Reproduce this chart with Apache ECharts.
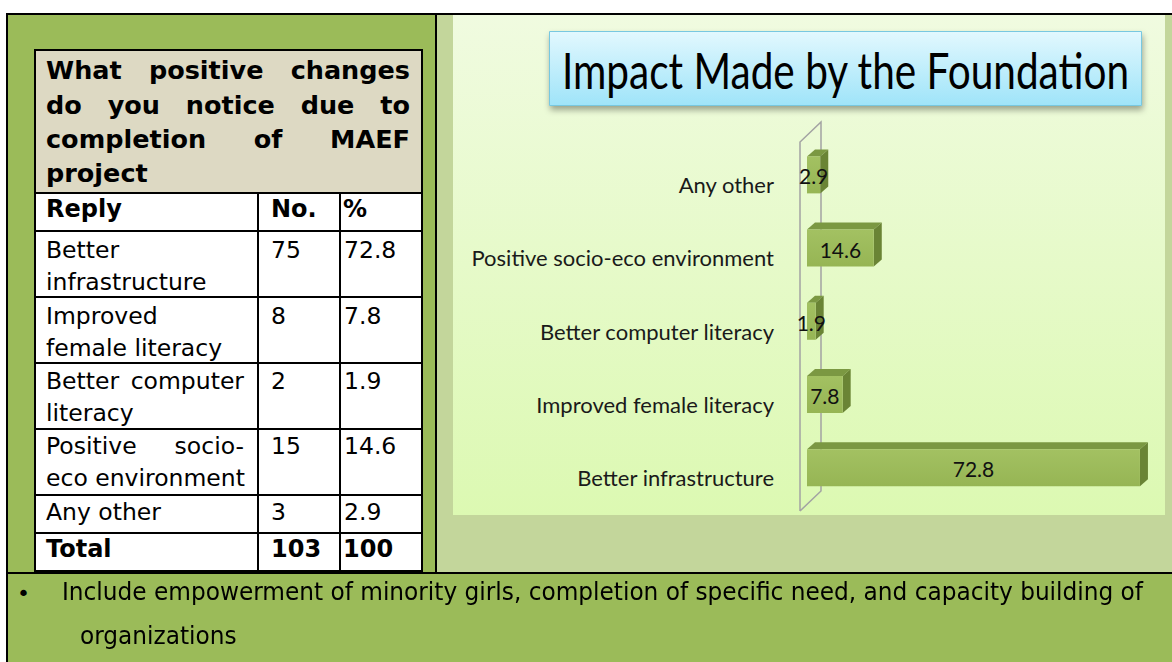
<!DOCTYPE html>
<html><head><meta charset="utf-8">
<script src="https://cdn.jsdelivr.net/npm/echarts@6/dist/echarts.min.js"></script>
<style>
html,body{margin:0;padding:0;background:#fff;}
#page{position:relative;width:1172px;height:662px;overflow:hidden;background:#fff;}
.abs{position:absolute;}
.t{position:absolute;white-space:nowrap;font-family:'DejaVu Sans',sans-serif;color:#000;}
</style></head><body>
<div id="page">
 <div class="abs" style="left:6px;top:13px;width:1166px;height:2px;background:#000"></div>
 <div class="abs" style="left:6px;top:13px;width:2px;height:649px;background:#000"></div>
 <div class="abs" style="left:8px;top:15px;width:427px;height:557px;background:#9bbb59"></div>
 <div class="abs" style="left:435px;top:15px;width:2px;height:557px;background:#000"></div>
 <div class="abs" style="left:437px;top:15px;width:735px;height:557px;background:#c3d69b"></div>
 <div class="abs" style="left:6px;top:572px;width:1166px;height:2px;background:#000"></div>
 <div class="abs" style="left:8px;top:574px;width:1164px;height:88px;background:#9bbb59"></div>
 <div id="chart" class="abs" style="left:453px;top:15px;width:712px;height:500px"></div>
</div>
<script>
// ---- data ----
const tableQuestion = ["What positive changes", "do you notice due to", "completion of MAEF", "project"];
const tableHeader = ["Reply", "No.", "%"];
const replyLines = [["Better", "infrastructure"], ["Improved", "female literacy"], ["Better computer", "literacy"], ["Positive socio-", "eco environment"], ["Any other"]];
const categories = ["Better infrastructure", "Improved female literacy", "Better computer literacy", "Positive socio-eco environment", "Any other"];
const counts = [75, 8, 2, 15, 3];
const percents = [72.8, 7.8, 1.9, 14.6, 2.9];
const totalLabel = "Total";
const totalCount = 103;
const totalPercent = 100;
const chartTitle = "Impact Made by the Foundation";
const noteLines = ["Include empowerment of minority girls, completion of specific need, and capacity building of", "organizations"];

// ---- helpers ----
const page = document.getElementById('page');
function box(l, t, w, h, bg) {
  const d = document.createElement('div');
  d.className = 'abs';
  d.style.cssText = `left:${l}px;top:${t}px;width:${w}px;height:${h}px;background:${bg}`;
  page.appendChild(d);
  return d;
}
function measure(text, font) {
  const c = document.createElement('canvas').getContext('2d');
  c.font = font; return c.measureText(text).width;
}
function txt(x, baseline, text, size, bold, justifyWidth) {
  const d = document.createElement('div');
  d.className = 't';
  d.textContent = text;
  d.style.fontSize = size + 'px';
  d.style.fontWeight = bold ? 'bold' : 'normal';
  d.style.lineHeight = (size * 1.164) + 'px';
  d.style.left = x + 'px';
  d.style.top = (baseline - size * 0.928) + 'px';
  if (justifyWidth) {
    d.style.width = justifyWidth + 'px';
    d.style.whiteSpace = 'normal';
    d.style.textAlign = 'justify';
    d.style.textAlignLast = 'justify';
  }
  page.appendChild(d);
  return d;
}

// ---- table ----
box(34, 49, 389, 523, '#000');
box(36, 51, 385, 141, '#ddd9c3');
box(36, 194, 385, 376, '#fff');
[230, 296, 362, 428, 494, 532].forEach(y => box(36, y, 385, 2, '#000'));
[257, 339].forEach(x => box(x, 194, 2, 376, '#000'));

tableQuestion.forEach((line, i) => {
  txt(46, 80 + i * 34.3, line, 25.5, true, i < tableQuestion.length - 1 ? 364 : 0);
});
txt(46, 218, tableHeader[0], 24, true);
txt(271, 218, tableHeader[1], 24, true);
txt(343, 218, tableHeader[2], 24, true);

const rowTops = [230, 296, 362, 428, 494];
const justified = [false, false, true, true, false];
replyLines.forEach((lines, r) => {
  const b0 = rowTops[r] + 29 - (r >= 2 ? 1 : 0) - (r >= 3 ? 1 : 0);
  lines.forEach((ln, k) => txt(46, b0 + k * 31.5, ln, 23.5, false, (k === 0 && justified[r]) ? 198 : 0));
  txt(271, b0, String(counts[r]), 23.5, false);
  txt(344, b0, percents[r].toFixed(1), 23.5, false);
});
txt(46, 558, totalLabel, 24, true);
txt(271, 558, String(totalCount), 24, true);
txt(343, 558, String(totalPercent), 24, true);

// ---- note row (condensed to the reference width) ----
const noteFont = 24;
const noteScale = 1081 / measure(noteLines[0], noteFont + "px 'DejaVu Sans'");
txt(17, 601, '\u2022', 22, false);
[[62, 601], [80, 645]].forEach(([x, b], i) => {
  const d = txt(x, b, noteLines[i], noteFont, false);
  d.style.transformOrigin = '0 0';
  d.style.transform = `scaleX(${noteScale})`;
});

// ---- chart ----
const chart = echarts.init(document.getElementById('chart'), null, { renderer: 'svg' });
const titleFont = "51px Lato";
const titleScale = 568 / measure(chartTitle, titleFont);

function wallRender(params, api) {
  const cs = params.coordSys;
  const x0 = api.coord([0, 0])[0] - 7;
  const t = cs.y - 6, b = cs.y + cs.height - 3;
  const dx = 21, dy = -20;
  return {
    type: 'polyline',
    shape: { points: [[x0, b], [x0, t], [x0 + dx, t + dy], [x0 + dx, b + dy], [x0, b]] },
    style: { stroke: '#a3a3a3', lineWidth: 1.5, fill: null }
  };
}
function barRender(params, api) {
  const v = api.value(0), c = api.value(1);
  const p0 = api.coord([0, c]);
  const p1 = api.coord([v, c]);
  const band = api.size([0, 1])[1];
  const h = band * 0.505;
  const yTop = p0[1] - band * 0.385;
  const x0 = p0[0], x1 = p1[0];
  const dx = 8, dy = -7;
  return {
    type: 'group',
    children: [
      { type: 'polygon', shape: { points: [[x0, yTop], [x0 + dx, yTop + dy], [x1 + dx, yTop + dy], [x1, yTop]] },
        style: { fill: '#7b9842' } },
      { type: 'polygon', shape: { points: [[x1, yTop], [x1 + dx, yTop + dy], [x1 + dx, yTop + h + dy], [x1, yTop + h]] },
        style: { fill: '#6a8435' } },
      { type: 'rect', shape: { x: x0, y: yTop, width: x1 - x0, height: h },
        style: { fill: { type: 'linear', x: 0, y: 0, x2: 0, y2: 1, colorStops: [{ offset: 0, color: '#a3c162' }, { offset: 1, color: '#96b554' }] } } },
      { type: 'text', x: (x0 + x1) / 2, y: yTop + h / 2 + 1,
        style: { text: v.toFixed(1), x: 0, y: 0, font: '21px Lato', fill: '#111', textFill: '#111',
                 align: 'center', textAlign: 'center', verticalAlign: 'middle', textVerticalAlign: 'middle' } }
    ]
  };
}

chart.setOption({
  animation: false,
  backgroundColor: { type: 'linear', x: 0, y: 0, x2: 0, y2: 1,
    colorStops: [{ offset: 0, color: '#f0fbe0' }, { offset: 1, color: '#dcf9b2' }] },
  grid: { left: 354, top: 133, width: 343, height: 366, containLabel: false },
  xAxis: { type: 'value', min: 0, max: 75, show: false },
  yAxis: {
    type: 'category', data: categories,
    axisLine: { show: false }, axisTick: { show: false }, splitLine: { show: false },
    axisLabel: { margin: 33, fontFamily: 'Lato', fontSize: 22, color: '#1a1a1a' }
  },
  graphic: [{
    type: 'group', left: 96, top: 16,
    children: [
      { type: 'rect', shape: { x: 0, y: 0, width: 592, height: 74 },
        style: { fill: { type: 'linear', x: 0, y: 0, x2: 0, y2: 1,
                 colorStops: [{ offset: 0, color: '#e2f8fe' }, { offset: 1, color: '#9fe4f9' }] },
                 stroke: '#78c8e0', lineWidth: 1,
                 shadowBlur: 6, shadowOffsetX: 1, shadowOffsetY: 4, shadowColor: 'rgba(0,0,0,0.35)' } },
      { type: 'text', x: 296, y: 38, scaleX: titleScale,
        style: { text: chartTitle, x: 0, y: 0, font: titleFont, fill: '#000', textFill: '#000',
                 align: 'center', textAlign: 'center', verticalAlign: 'middle', textVerticalAlign: 'middle' } }
    ]
  }],
  series: [
    { type: 'custom', renderItem: wallRender, data: [[0, 0]], encode: { x: 0, y: 1 }, silent: true, z: 1 },
    { type: 'custom', renderItem: barRender, data: percents.map((v, i) => [v, i]), encode: { x: 0, y: 1 }, z: 2 }
  ]
});
</script>
</body></html>
